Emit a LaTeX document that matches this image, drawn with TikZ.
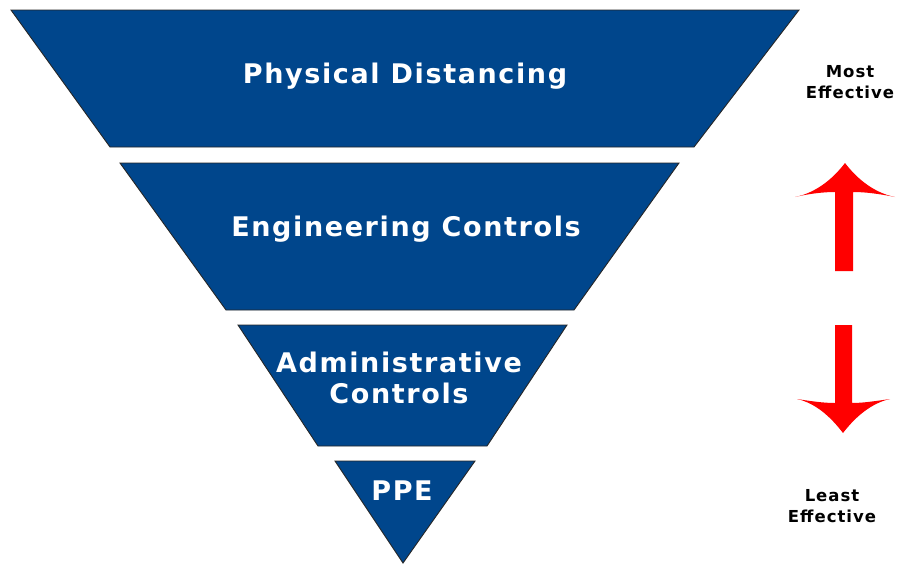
\documentclass[tikz,border=0pt]{standalone}
\usepackage{fontspec}
\setmainfont{DejaVu Sans}
\newfontfamily\tierfont{DejaVu Sans}[LetterSpace=6]
\newfontfamily\sidefont{DejaVu Sans}[LetterSpace=6]
\definecolor{tierblue}{RGB}{0,70,140}
\definecolor{arrowred}{RGB}{255,0,0}
\tikzset{
  tier/.style={fill=tierblue, draw=black!85, line width=0.9pt, line join=miter},
  tiertext/.style={text=white, font=\tierfont\bfseries\fontsize{27}{31}\selectfont, align=center, inner sep=0pt, anchor=base},
  sidetext/.style={text=black, font=\sidefont\bfseries\fontsize{16.5}{21}\selectfont, align=center, inner sep=0pt, anchor=base},
  redarrow/.style={fill=arrowred, draw=none}
}
\begin{document}
\begin{tikzpicture}[x=1pt,y=-1pt]
\useasboundingbox (0,0) rectangle (900,563);
% tiers
\draw[tier] (11,10) -- (799,10) -- (694,147) -- (110,147) -- cycle;
\draw[tier] (120,163) -- (679,163) -- (574,310) -- (226,310) -- cycle;
\draw[tier] (238,325) -- (567,325) -- (487,446) -- (318,446) -- cycle;
\draw[tier] (335,461) -- (475,461) -- (403,563) -- cycle;
% labels
\node[tiertext] (t1) at (405,83) {Physical Distancing};
\node[tiertext] (t2) at (406,236) {Engineering Controls};
\node[tiertext] (t3) at (399,403) {Administrative\\Controls};
\node[tiertext] (t4) at (402,500) {PPE};
\node[sidetext] (most) at (850,98) {Most\\Effective};
\node[sidetext] (least) at (832,522) {Least\\Effective};
% arrows
\fill[redarrow] (845,163) .. controls (832,180) and (815,193) .. (795,197)
  .. controls (808,194) and (822,192) .. (835,192) -- (835,271) -- (853,271) -- (853,192)
  .. controls (866,192) and (880,194) .. (895,197)
  .. controls (875,193) and (858,180) .. (845,163) -- cycle;
\fill[redarrow] (843,433) .. controls (830,416) and (815,403) .. (797,399)
  .. controls (810,401) and (823,403) .. (835,403) -- (835,325) -- (852,325) -- (852,403)
  .. controls (863,403) and (876,401) .. (890,399)
  .. controls (872,403) and (856,416) .. (843,433) -- cycle;
\end{tikzpicture}
\end{document}
